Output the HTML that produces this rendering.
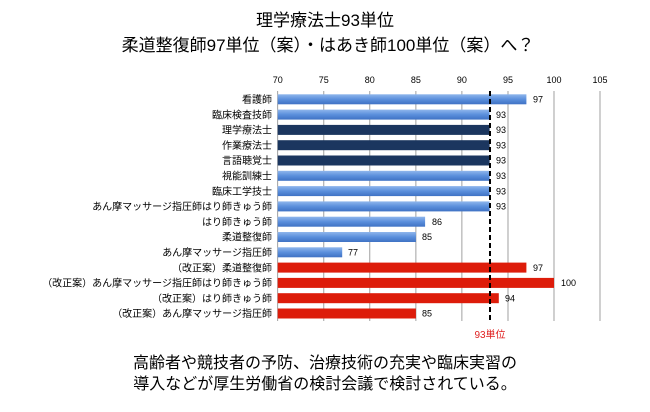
<!DOCTYPE html>
<html><head><meta charset="utf-8"><style>
body{margin:0;width:650px;height:407px;background:#fff;overflow:hidden;font-family:"Liberation Sans","Noto Sans CJK JP",sans-serif;}
svg text{font-family:"Liberation Sans","Noto Sans CJK JP",sans-serif;}
</style></head><body>
<svg width="650" height="407" viewBox="0 0 650 407" xmlns="http://www.w3.org/2000/svg">
<defs>
<linearGradient id="lb" x1="0" y1="0" x2="0" y2="1"><stop offset="0" stop-color="#8fb6ec"/><stop offset="0.5" stop-color="#5b8fdc"/><stop offset="1" stop-color="#3f72c4"/></linearGradient>
</defs>
<text x="325" y="26" font-size="17" text-anchor="middle" fill="#000">理学療法士93単位</text>
<text x="328" y="51" font-size="17" text-anchor="middle" fill="#000">柔道整復師97単位（案）・はあき師100単位（案）へ？</text>
<g font-size="9" fill="#000" text-anchor="middle">
<text x="277.7" y="83">70</text><text x="323.8" y="83">75</text><text x="369.8" y="83">80</text><text x="415.9" y="83">85</text><text x="461.9" y="83">90</text><text x="508" y="83">95</text><text x="554" y="83">100</text><text x="600" y="83">105</text>
</g>
<g stroke="#888" stroke-width="0.8">
<line x1="277.7" y1="91" x2="277.7" y2="321"/><line x1="323.8" y1="91" x2="323.8" y2="321"/><line x1="369.8" y1="91" x2="369.8" y2="321"/><line x1="415.9" y1="91" x2="415.9" y2="321"/><line x1="461.9" y1="91" x2="461.9" y2="321"/><line x1="508" y1="91" x2="508" y2="321"/><line x1="554" y1="91" x2="554" y2="321"/><line x1="600" y1="91" x2="600" y2="321"/>
</g>
<g font-size="9" fill="#000">
<g text-anchor="end" font-size="10">
<text x="272" y="103">看護師</text>
<text x="272" y="118.3">臨床検査技師</text>
<text x="272" y="133.6">理学療法士</text>
<text x="272" y="148.9">作業療法士</text>
<text x="272" y="164.2">言語聴覚士</text>
<text x="272" y="179.5">視能訓練士</text>
<text x="272" y="194.8">臨床工学技士</text>
<text x="272" y="210.1">あん摩マッサージ指圧師はり師きゅう師</text>
<text x="272" y="225.4">はり師きゅう師</text>
<text x="272" y="240.7">柔道整復師</text>
<text x="272" y="256">あん摩マッサージ指圧師</text>
<text x="272" y="271.3">（改正案）柔道整復師</text>
<text x="272" y="286.6">（改正案）あん摩マッサージ指圧師はり師きゅう師</text>
<text x="272" y="301.9">（改正案）はり師きゅう師</text>
<text x="272" y="317.2">（改正案）あん摩マッサージ指圧師</text>
</g>
<rect x="277.7" y="94.3" width="248.7" height="10" fill="url(#lb)"/><text x="533" y="102.5">97</text>
<rect x="277.7" y="109.6" width="211.9" height="10" fill="url(#lb)"/><text x="496" y="117.8">93</text>
<rect x="277.7" y="124.9" width="211.9" height="10" fill="#1b365f"/><text x="496" y="133.1">93</text>
<rect x="277.7" y="140.2" width="211.9" height="10" fill="#1b365f"/><text x="496" y="148.4">93</text>
<rect x="277.7" y="155.5" width="211.9" height="10" fill="#1b365f"/><text x="496" y="163.7">93</text>
<rect x="277.7" y="170.8" width="211.9" height="10" fill="url(#lb)"/><text x="496" y="179">93</text>
<rect x="277.7" y="186.1" width="211.9" height="10" fill="url(#lb)"/><text x="496" y="194.3">93</text>
<rect x="277.7" y="201.4" width="211.9" height="10" fill="url(#lb)"/><text x="496" y="209.6">93</text>
<rect x="277.7" y="216.7" width="147.4" height="10" fill="url(#lb)"/><text x="432" y="224.9">86</text>
<rect x="277.7" y="232" width="138.2" height="10" fill="url(#lb)"/><text x="422" y="240.2">85</text>
<rect x="277.7" y="247.3" width="64.5" height="10" fill="url(#lb)"/><text x="348" y="255.5">77</text>
<rect x="277.7" y="262.6" width="248.7" height="10" fill="#dd1c0a"/><text x="533" y="270.8">97</text>
<rect x="277.7" y="277.9" width="276.3" height="10" fill="#dd1c0a"/><text x="561" y="286.1">100</text>
<rect x="277.7" y="293.2" width="221.1" height="10" fill="#dd1c0a"/><text x="505" y="301.4">94</text>
<rect x="277.7" y="308.5" width="138.2" height="10" fill="#dd1c0a"/><text x="422" y="316.7">85</text>
</g>
<line x1="490" y1="91" x2="490" y2="323" stroke="#000" stroke-width="2" stroke-dasharray="5,3"/>
<text x="490" y="338" font-size="10" fill="#e02020" text-anchor="middle">93単位</text>
<text x="325" y="368" font-size="16" text-anchor="middle" fill="#000">高齢者や競技者の予防、治療技術の充実や臨床実習の</text>
<text x="325" y="389" font-size="16" text-anchor="middle" fill="#000">導入などが厚生労働省の検討会議で検討されている。</text>
</svg>
</body></html>
